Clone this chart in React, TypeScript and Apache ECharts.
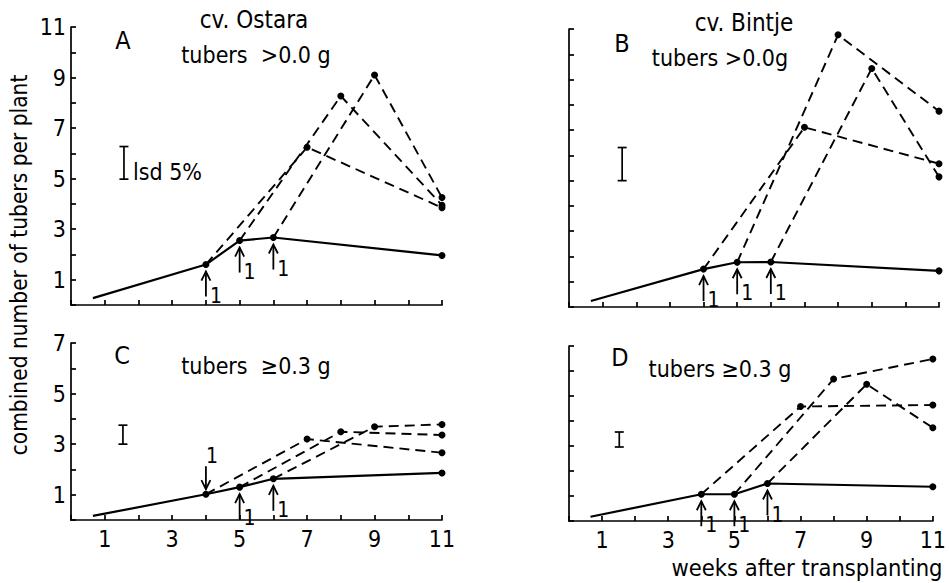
import React, { useEffect, useRef } from "react";
import * as echarts from "echarts";

// weeks after transplanting
const mainWeeks = [0.65, 4, 5, 6, 11];
const harvest4Weeks = [4, 7, 11];
const harvest5Weeks = [5, 8, 11];
const harvest6Weeks = [6, 9, 11];

// A: cv. Ostara, tubers > 0.0 g
const ostaraAllMain = [0.27, 1.6, 2.55, 2.67, 1.96];
const ostaraAllH4 = [1.6, 6.24, 3.85];
const ostaraAllH5 = [2.55, 8.27, 3.95];
const ostaraAllH6 = [2.67, 9.1, 4.25];
// B: cv. Bintje, tubers > 0.0 g
const bintjeAllMain = [0.24, 1.5, 1.77, 1.78, 1.43];
const bintjeAllH4 = [1.5, 7.11, 5.67];
const bintjeAllH5 = [1.77, 10.77, 7.75];
const bintjeAllH6 = [1.78, 9.44, 5.15];
// C: cv. Ostara, tubers >= 0.3 g
const ostaraBigMain = [0.16, 1.02, 1.3, 1.63, 1.86];
const ostaraBigH4 = [1.02, 3.2, 2.66];
const ostaraBigH5 = [1.3, 3.49, 3.36];
const ostaraBigH6 = [1.63, 3.69, 3.78];
// D: cv. Bintje, tubers >= 0.3 g
const bintjeBigMain = [0.17, 1.07, 1.07, 1.5, 1.37];
const bintjeBigH4 = [1.07, 4.58, 4.64];
const bintjeBigH5 = [1.07, 5.68, 6.48];
const bintjeBigH6 = [1.5, 5.47, 3.73];

// lsd 5% bars (x position in weeks, low, high)
const lsdWeek = [1.57, 1.58, 1.54, 1.52];
const lsdLow = [4.98, 5.0, 3.0, 2.96];
const lsdHigh = [6.27, 6.31, 3.75, 3.56];

const yMax = [11, 11, 7, 7];
// arrow directions at weeks 4, 5, 6
const arrowDirs = [
  ["up", "up", "up"],
  ["up", "up", "up"],
  ["down", "up", "up"],
  ["up", "up", "up"],
];

const FONT = "'DejaVu Sans Condensed', 'DejaVu Sans', sans-serif";

const panels = [
  { main: ostaraAllMain, h4: ostaraAllH4, h5: ostaraAllH5, h6: ostaraAllH6 },
  { main: bintjeAllMain, h4: bintjeAllH4, h5: bintjeAllH5, h6: bintjeAllH6 },
  { main: ostaraBigMain, h4: ostaraBigH4, h5: ostaraBigH5, h6: ostaraBigH6 },
  { main: bintjeBigMain, h4: bintjeBigH4, h5: bintjeBigH5, h6: bintjeBigH6 },
];

const grids = [
  { left: 71, top: 27, width: 371, height: 278 },
  { left: 569, top: 29, width: 370, height: 278 },
  { left: 71, top: 343, width: 371, height: 177 },
  { left: 569, top: 346, width: 370, height: 175 },
];

const zip = (xs: number[], ys: number[]) => xs.map((x, i) => [x, ys[i]]);

export default function App() {
  const ref = useRef<HTMLDivElement>(null);
  useEffect(() => {
    if (!ref.current) return;
    const chart = echarts.init(ref.current, null, { renderer: "svg" });
    const axisLineStyle = { color: "#000", width: 1.7 };
    const xAxis = grids.map((_, i) => ({
      type: "value",
      gridIndex: i,
      min: 0,
      max: 11,
      interval: 1,
      axisLine: { show: true, lineStyle: axisLineStyle },
      axisTick: { show: true, inside: true, length: 5, lineStyle: axisLineStyle },
      splitLine: { show: false },
      axisLabel: {
        show: i >= 2,
        showMinLabel: true,
        showMaxLabel: true,
        margin: 7,
        color: "#000",
        fontSize: 23,
        fontFamily: FONT,
        formatter: (v: number) => (v % 2 === 1 ? String(v) : ""),
      },
    }));
    const yAxis = grids.map((_, i) => ({
      type: "value",
      gridIndex: i,
      min: 0,
      max: yMax[i],
      interval: 1,
      axisLine: { show: true, lineStyle: axisLineStyle },
      axisTick: { show: true, inside: true, length: 5, lineStyle: axisLineStyle },
      splitLine: { show: false },
      axisLabel: {
        show: i % 2 === 0,
        showMaxLabel: true,
        margin: 5,
        color: "#000",
        fontSize: 23,
        fontFamily: FONT,
        formatter: (v: number) => (v % 2 === 1 ? String(v) : ""),
      },
    }));
    const series: any[] = [];
    panels.forEach((p, i) => {
      const mainData: any[] = zip(mainWeeks, p.main);
      mainData[0] = { value: mainData[0], symbol: "none" };
      series.push({
        type: "line",
        xAxisIndex: i,
        yAxisIndex: i,
        data: mainData,
        symbol: "circle",
        symbolSize: 7,
        itemStyle: { color: "#000" },
        lineStyle: { color: "#000", width: 2.2 },
        z: 3,
      });
      [
        [harvest4Weeks, p.h4],
        [harvest5Weeks, p.h5],
        [harvest6Weeks, p.h6],
      ].forEach(([w, v]) => {
        const d: any[] = zip(w as number[], v as number[]);
        d[0] = { value: d[0], symbol: "none" };
        series.push({
          type: "line",
          xAxisIndex: i,
          yAxisIndex: i,
          data: d,
          symbol: "circle",
          symbolSize: 7,
          itemStyle: { color: "#000" },
          lineStyle: { color: "#000", width: 1.9, type: [10, 6] },
          z: 2,
        });
      });
    });

    chart.setOption({
      animation: false,
      backgroundColor: "#fff",
      grid: grids.map((g) => ({ ...g, containLabel: false })),
      xAxis,
      yAxis,
      series,
    });

    const txt = (text: string, x: number, y: number, size = 22, align = "center", extra: any = {}) => ({
      type: "text",
      x,
      y,
      ...extra,
      style: {
        text,
        x: 0,
        y: 0,
        fill: "#000",
        fontSize: size,
        fontFamily: FONT,
        textAlign: align,
        align,
        textVerticalAlign: "middle",
        verticalAlign: "middle",
      },
    });

    const elements: any[] = [
      txt("cv. Ostara", 254, 20, 24),
      txt("A", 123, 40, 25),
      txt("tubers  >0.0 g", 256, 55, 23),
      txt("cv. Bintje", 744, 23, 24),
      txt("B", 622, 43, 25),
      txt("tubers >0.0g", 720, 58, 23),
      txt("C", 122, 355, 25),
      txt("tubers  ≥0.3 g", 256, 366, 23),
      txt("D", 620, 357, 25),
      txt("tubers ≥0.3 g", 720, 369, 23),
      txt("combined number of tubers per plant", 19, 265, 22.5, "center", { rotation: Math.PI / 2 }),
      txt("weeks after transplanting", 807, 568, 23.5),
    ];

    const lineEl = (x1: number, y1: number, x2: number, y2: number, w = 1.7) => ({
      type: "line",
      shape: { x1, y1, x2, y2 },
      style: { stroke: "#000", lineWidth: w },
    });

    panels.forEach((p, i) => {
      // lsd bar
      const top = chart.convertToPixel({ gridIndex: i } as any, [lsdWeek[i], lsdHigh[i]]) as number[];
      const bot = chart.convertToPixel({ gridIndex: i } as any, [lsdWeek[i], lsdLow[i]]) as number[];
      elements.push(lineEl(top[0], top[1], bot[0], bot[1]));
      elements.push(lineEl(top[0] - 4.5, top[1], top[0] + 4.5, top[1]));
      elements.push(lineEl(bot[0] - 4.5, bot[1], bot[0] + 4.5, bot[1]));
      if (i === 0) elements.push(txt("lsd 5%", bot[0] + 9, bot[1] - 7, 23, "left"));
      // arrows at weeks 4, 5, 6
      [1, 2, 3].forEach((k, j) => {
        const pt = chart.convertToPixel({ gridIndex: i } as any, [mainWeeks[k], p.main[k]]) as number[];
        const dir = arrowDirs[i][j];
        if (dir === "up") {
          const y1 = pt[1] + 7;
          const y2 = pt[1] + 32;
          elements.push(lineEl(pt[0], y1, pt[0], y2, 1.8));
          elements.push({
            type: "polyline",
            shape: { points: [[pt[0] - 4.5, y1 + 9], [pt[0], y1], [pt[0] + 4.5, y1 + 9]] },
            style: { stroke: "#000", lineWidth: 1.8, fill: "none" },
          });
          elements.push(txt("1", pt[0] + 10, pt[1] + 31, 21, "center"));
        } else {
          const y1 = pt[1] - 28;
          const y2 = pt[1] - 5;
          elements.push(lineEl(pt[0], y1, pt[0], y2, 1.8));
          elements.push({
            type: "polyline",
            shape: { points: [[pt[0] - 4.5, y2 - 9], [pt[0], y2], [pt[0] + 4.5, y2 - 9]] },
            style: { stroke: "#000", lineWidth: 1.8, fill: "none" },
          });
          elements.push(txt("1", pt[0] + 6, pt[1] - 38, 21, "center"));
        }
      });
    });

    chart.setOption({ graphic: { elements } });
    return () => chart.dispose();
  }, []);
  return (
    <div
      ref={ref}
      style={{ position: "fixed", left: 0, top: 0, width: 949, height: 583, background: "#fff" }}
    />
  );
}
